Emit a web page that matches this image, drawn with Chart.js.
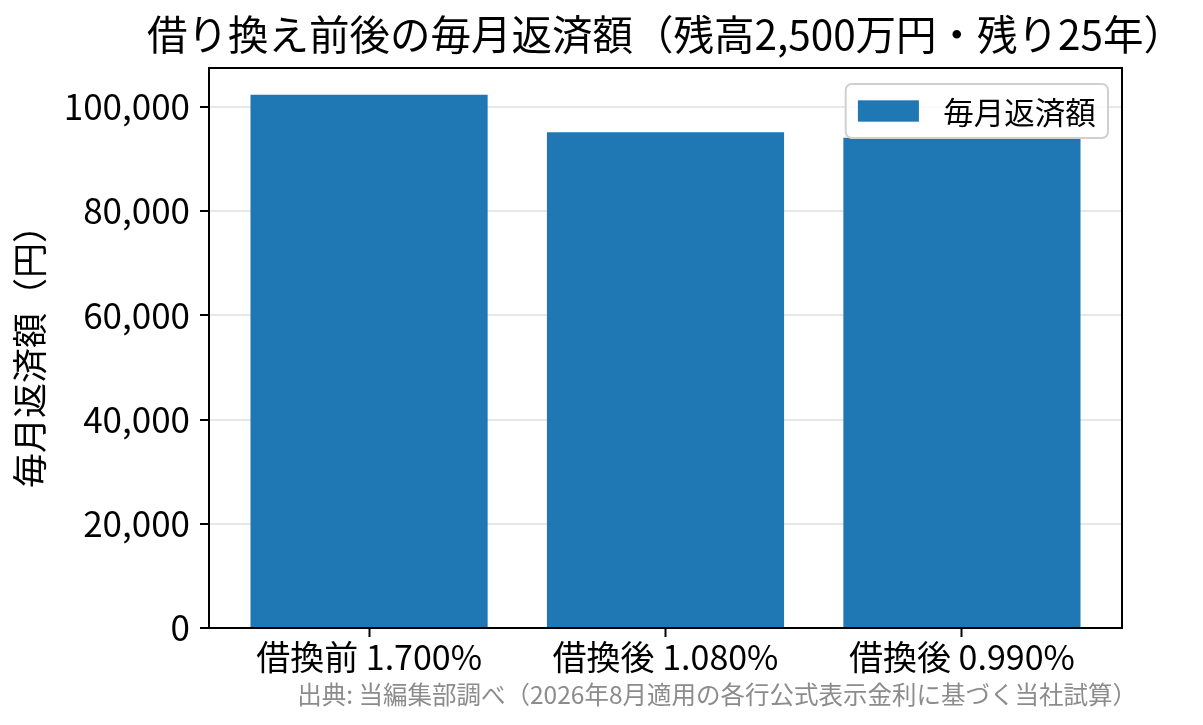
<!DOCTYPE html>
<html lang="ja">
<head>
<meta charset="utf-8">
<script src="https://cdn.jsdelivr.net/npm/chart.js@4.4.1/dist/chart.umd.min.js"></script>
<style>
  body { margin: 0; background: #fff; }
  canvas { display: block; }
</style>
</head>
<body>
<canvas id="chart" width="1203" height="725" lang="ja"></canvas>
<script>
const categories = ["借換前 1.700%", "借換後 1.080%", "借換後 0.990%"];
const monthlyPayments = [102355, 95125, 94105];
const yTicks = [0, 20000, 40000, 60000, 80000, 100000];
const seriesLabel = "毎月返済額";
const titleText = "借り換え前後の毎月返済額（残高2,500万円・残り25年）";
const yAxisTitle = "毎月返済額（円）";
const sourceNote = "出典: 当編集部調べ（2026年8月適用の各行公式表示金利に基づく当社試算）";

const FONT = "'Noto Sans CJK JP', 'Noto Sans', sans-serif";
const BAR_COLOR = "#1f77b4";

// matplotlib-like auto margins
const xMin = -0.4 - 0.14;
const xMax = categories.length - 1 + 0.4 + 0.14;
const yMax = Math.max(...monthlyPayments) * 1.05;

// title (wider than the plot, so drawn here instead of the title plugin
// which squeezes it), legend box, spines and source note
const decorations = {
  id: "decorations",
  afterDraw(chart) {
    const { ctx, chartArea: a } = chart;
    ctx.save();
    ctx.textBaseline = "middle";

    ctx.font = `40.5px ${FONT}`;
    ctx.fillStyle = "#000";
    ctx.textAlign = "center";
    ctx.fillText(titleText, (a.left + a.right) / 2, 35);

    // legend inside top-right
    const fs = 30.5;
    ctx.font = `${fs}px ${FONT}`;
    const tw = ctx.measureText(seriesLabel).width;
    const pad = fs * 0.4, handle = fs * 2, gap = fs * 0.8;
    const w = pad + handle + gap + tw + pad;
    const h = fs * 1.77;
    const bx = a.right - 14 - w, by = a.top + 16;
    ctx.beginPath();
    ctx.roundRect(bx, by, w, h, 6);
    ctx.fillStyle = "rgba(255,255,255,0.8)";
    ctx.fill();
    ctx.lineWidth = 2;
    ctx.strokeStyle = "#d0d0d0";
    ctx.stroke();
    ctx.fillStyle = BAR_COLOR;
    ctx.fillRect(bx + pad, by + h / 2 - fs * 0.35, handle, fs * 0.7);
    ctx.fillStyle = "#000";
    ctx.textAlign = "left";
    ctx.fillText(seriesLabel, bx + pad + handle + gap, by + h / 2 + 1);

    // axes frame
    ctx.lineWidth = 2;
    ctx.strokeStyle = "#000";
    ctx.strokeRect(a.left, a.top, a.right - a.left, a.bottom - a.top);

    // source note
    ctx.font = `24.5px ${FONT}`;
    ctx.fillStyle = "#8c8c8c";
    ctx.textAlign = "right";
    ctx.fillText(sourceNote, a.right + 15, a.bottom + 67);
    ctx.restore();
  }
};

new Chart(document.getElementById("chart"), {
  type: "bar",
  data: {
    datasets: [{
      label: seriesLabel,
      data: monthlyPayments.map((v, i) => ({ x: i, y: v })),
      backgroundColor: BAR_COLOR,
      borderWidth: 0,
      barPercentage: 0.8,
      categoryPercentage: 1.0
    }]
  },
  options: {
    responsive: false,
    animation: false,
    devicePixelRatio: 1,
    layout: { padding: { top: 68, left: 0, right: 81, bottom: 0 } },
    plugins: {
      legend: { display: false },
      tooltip: { enabled: false },
      title: { display: false }
    },
    scales: {
      x: {
        type: "linear",
        min: xMin,
        max: xMax,
        offset: false,
        afterBuildTicks: (s) => { s.ticks = categories.map((_, i) => ({ value: i })); },
        afterFit: (s) => { s.height = 97; },
        ticks: {
          callback: (v) => categories[v],
          color: "#000",
          padding: 0,
          maxRotation: 0,
          autoSkip: false,
          font: { family: FONT, size: 34 }
        },
        grid: {
          offset: false,
          drawOnChartArea: false,
          drawTicks: true,
          tickLength: 9,
          tickWidth: 2,
          tickColor: "#000"
        },
        border: { display: false }
      },
      y: {
        min: 0,
        max: yMax,
        z: 1,
        afterBuildTicks: (s) => { s.ticks = yTicks.map((v) => ({ value: v })); },
        afterFit: (s) => { s.width = 209; },
        ticks: {
          callback: (v) => v.toLocaleString("en-US"),
          color: "#000",
          padding: 10,
          font: { family: FONT, size: 35 }
        },
        grid: {
          color: "rgba(176,176,176,0.3)",
          lineWidth: 2,
          tickLength: 9,
          tickWidth: 2,
          tickColor: "#000"
        },
        border: { display: false },
        title: {
          display: true,
          text: yAxisTitle,
          color: "#000",
          font: { family: FONT, size: 35 },
          padding: { top: 9, bottom: 0 }
        }
      }
    }
  },
  plugins: [decorations]
});
</script>
</body>
</html>
